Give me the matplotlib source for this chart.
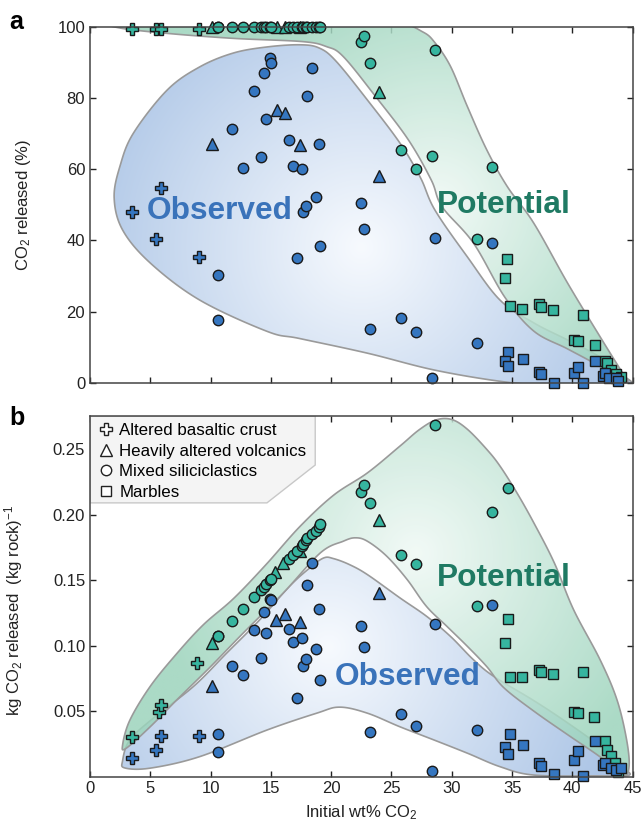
import matplotlib
matplotlib.use('Agg')
import matplotlib.pyplot as plt
import numpy as np
from matplotlib.patches import Polygon
from matplotlib.lines import Line2D

plt.rcParams['font.family'] = ['Liberation Sans', 'DejaVu Sans']
plt.rcParams['mathtext.fontset'] = 'custom'
plt.rcParams['mathtext.rm'] = 'Liberation Sans'
plt.rcParams['mathtext.it'] = 'Liberation Sans:italic'

# ---- panel a: CO2 released (%) ----
a_cross_x = [3.5, 5.5, 5.9, 9.0]
a_cross_obs = [48.0, 40.3, 54.8, 35.4]
a_cross_pot = [99.3, 99.3, 99.3, 99.3]

a_tri_x = [10.1, 15.5, 16.2, 17.4, 24.0]
a_tri_obs = [67.0, 76.6, 75.7, 66.7, 58.1]
a_tri_pot = [100, 100, 100, 100, 81.7]

a_circ_x = [10.6, 10.6, 11.8, 12.7, 13.6, 14.2, 14.4, 14.6, 14.9, 15.0, 16.5, 16.8, 17.2, 17.6, 17.7,
            17.9, 18.0, 18.4, 18.7, 19.0, 19.1, 22.5, 22.7, 23.2, 25.8, 27.0, 28.4, 28.6, 32.1, 33.3]
a_circ_obs = [30.3, 17.6, 71.2, 60.3, 81.9, 63.4, 86.9, 74.1, 91.1, 89.9, 68.2, 61.0, 35.0, 59.9, 47.9,
              49.7, 80.5, 88.5, 52.1, 67.1, 38.4, 50.6, 43.3, 15.0, 18.3, 14.2, 1.4, 40.6, 11.1, 39.2]
a_circ_pot = [100, 100, 100, 100, 100, 100, 100, 100, 100, 100, 100, 100, 100, 100, 100,
              100, 100, 100, 100, 100, 100, 95.8, 97.5, 89.7, 65.3, 59.9, 63.7, 93.5, 40.4, 60.6]

a_sq_pot_x = [34.6, 34.4, 34.8, 35.8, 37.2, 37.4, 38.4, 40.9, 40.1, 40.5, 41.9, 42.7, 42.9, 43.2, 43.6, 44.0]
a_sq_pot = [34.7, 29.4, 21.5, 20.7, 22.0, 21.3, 20.3, 19.0, 12.0, 11.6, 10.7, 6.0, 5.5, 3.6, 2.5, 1.5]
a_sq_obs_x = [34.7, 34.4, 34.7, 35.9, 37.2, 37.4, 38.5, 40.1, 40.5, 40.9, 41.9, 42.5, 42.7, 43.0, 43.6, 43.8]
a_sq_obs = [8.5, 6.1, 4.8, 6.6, 3.1, 2.4, 0.0, 2.8, 4.5, 0.0, 6.2, 2.0, 2.6, 1.2, 1.2, 0.4]

# ---- panel b: kg CO2 released per kg rock ----
b_cross_x = [3.5, 5.5, 5.9, 9.0]
b_cross_obs = [0.014, 0.020, 0.031, 0.031]
b_cross_pot_x = [3.5, 5.7, 5.9, 8.9]
b_cross_pot = [0.0305, 0.049, 0.0547, 0.087]

b_tri_x = [10.1, 15.4, 16.2, 17.4, 24.0]
b_tri_obs = [0.0688, 0.1198, 0.1244, 0.1178, 0.1403]
b_tri_pot_x = [10.1, 15.3, 16.0, 17.4, 24.0]
b_tri_pot = [0.102, 0.156, 0.163, 0.172, 0.1964]

b_circ_x = a_circ_x
b_circ_obs = [0.0323, 0.019, 0.0846, 0.0772, 0.1116, 0.0905, 0.1257, 0.1096, 0.136, 0.135, 0.1127, 0.1027,
              0.0603, 0.1058, 0.0846, 0.0897, 0.146, 0.163, 0.0975, 0.128, 0.0739, 0.1147, 0.0986, 0.0343,
              0.0476, 0.0387, 0.0042, 0.1168, 0.0356, 0.1308]
b_circ_pot_x = [10.6, 10.6, 11.8, 12.7, 13.6, 14.2, 14.4, 14.6, 14.9, 15.0, 16.5, 16.8, 17.2, 17.6, 17.7,
                17.9, 18.0, 18.4, 18.7, 19.0, 19.1, 22.5, 22.7, 23.2, 25.8, 27.0, 34.7, 28.6, 32.1, 33.3]
b_circ_pot = [0.107, 0.107, 0.1185, 0.128, 0.137, 0.1428, 0.145, 0.147, 0.1505, 0.151, 0.166, 0.169,
              0.172, 0.1765, 0.178, 0.1806, 0.182, 0.185, 0.1875, 0.191, 0.1926, 0.2173, 0.2224, 0.2092,
              0.169, 0.1622, 0.2204, 0.2686, 0.130, 0.202]

b_sq_pot_x = [34.7, 34.4, 34.8, 35.8, 37.2, 37.4, 38.4, 40.9, 40.1, 40.5, 41.8, 42.7, 42.9, 43.2, 43.5, 43.8]
b_sq_pot = [0.1206, 0.102, 0.0757, 0.0757, 0.0815, 0.0798, 0.0787, 0.0798, 0.0496, 0.0484, 0.0453,
            0.0274, 0.020, 0.0157, 0.010, 0.0037]
b_sq_obs_x = [34.8, 34.4, 34.7, 35.9, 37.2, 37.4, 38.5, 40.1, 40.5, 40.9, 41.9, 42.5, 42.7, 43.2, 43.6, 44.0]
b_sq_obs = [0.0325, 0.0228, 0.0172, 0.0244, 0.0106, 0.0083, 0.0017, 0.0124, 0.0195, 0.0004, 0.0274,
            0.0085, 0.0106, 0.0063, 0.005, 0.0063]

# envelope outlines (rough vertices, smoothed below)
obs_a_x = [2.0, 2.5, 3.6, 6.4, 9.1, 11.9, 14.7, 17.4, 19.0, 20.4, 23.0, 25.7, 27.4, 28.6, 31.3, 34.0, 36.8,
           39.6, 42.3, 44.0, 44.9, 42.0, 38.0, 34.0, 28.5, 23.0, 17.4, 14.7, 9.1, 5.0, 2.7]
obs_a_y = [52.0, 61.0, 70.1, 82.2, 88.7, 92.6, 94.3, 94.9, 94.0, 90.3, 79.4, 67.3, 57.6, 48.5, 35.3, 23.2,
           16.8, 12.0, 7.2, 2.5, -0.5, -1.0, -0.8, 0.4, 3.6, 8.3, 12.4, 14.4, 23.2, 33.6, 42.9]
pot_a_x = [2.3, 10.0, 20.0, 25.5, 27.6, 28.6, 29.9, 31.3, 32.9, 34.6, 36.8, 39.6, 42.3, 44.0, 44.6, 43.6,
           42.3, 39.6, 36.8, 34.4, 31.8, 29.2, 28.3, 26.4, 23.7, 21.0, 19.6, 17.6, 11.9, 6.4, 2.5]
pot_a_y = [100.8, 101.5, 101.5, 101.0, 98.5, 95.5, 88.8, 77.5, 65.4, 55.1, 44.8, 28.0, 12.9, 3.6, 0.3, 1.0,
           4.5, 9.5, 14.5, 24.0, 39.2, 49.4, 56.9, 68.2, 80.3, 91.6, 94.4, 95.8, 96.7, 98.1, 99.6]
obs_b_x = [2.7, 3.3, 5.3, 8.6, 11.3, 14.1, 16.5, 18.3, 19.4, 20.2, 21.5, 23.0, 25.7, 27.9, 29.9, 31.8, 33.5,
           36.8, 39.6, 42.3, 44.0, 44.7, 42.0, 36.8, 34.0, 31.3, 28.5, 25.7, 23.0, 20.7, 18.8, 14.7, 9.1, 5.0, 2.9]
obs_b_y = [0.012, 0.028, 0.045, 0.069, 0.094, 0.120, 0.145, 0.160, 0.1671, 0.1665, 0.162, 0.1543, 0.1365,
           0.1225, 0.107, 0.0892, 0.0764, 0.058, 0.041, 0.023, 0.008, 0.001, 0.0005, 0.0011, 0.0075, 0.0178,
           0.028, 0.038, 0.0484, 0.053, 0.0484, 0.0356, 0.0152, 0.0064, 0.0065]
pot_b_x = [2.7, 3.3, 5.0, 7.2, 9.4, 11.9, 14.6, 17.4, 20.2, 23.0, 25.7, 27.3, 28.7, 30.0, 31.3, 32.9, 34.0,
           35.4, 36.8, 38.5, 40.1, 42.3, 43.7, 44.5, 44.7, 44.2, 42.3, 39.6, 36.8, 34.3, 32.9, 31.3, 29.6,
           27.9, 26.3, 24.6, 23.0, 22.0, 21.0, 19.1, 16.0, 12.7, 10.0, 7.2, 5.0, 3.0]
pot_b_y = [0.024, 0.043, 0.069, 0.094, 0.116, 0.136, 0.162, 0.191, 0.215, 0.232, 0.2525, 0.265, 0.2725,
           0.2728, 0.2653, 0.250, 0.2372, 0.2168, 0.1939, 0.1633, 0.1275, 0.0892, 0.0586, 0.028, 0.0075,
           0.001, 0.015, 0.032, 0.050, 0.068, 0.084, 0.0994, 0.1147, 0.130, 0.1505, 0.1684, 0.1798, 0.1824,
           0.1798, 0.1709, 0.140, 0.1096, 0.084, 0.0586, 0.0381, 0.0216]

BLUE = '#3576c0'
GREEN = '#36b59f'
EDGE = '#1a1a1a'


def smooth_closed(xs, ys, n=14):
    # catmull-rom through the outline vertices
    p = np.column_stack([xs, ys]).astype(float)
    m = len(p)
    t = np.linspace(0, 1, n, endpoint=False)[:, None]
    out = []
    for i in range(m):
        p0, p1, p2, p3 = p[i - 1], p[i], p[(i + 1) % m], p[(i + 2) % m]
        out.append(0.5 * (2 * p1 + (-p0 + p2) * t + (2 * p0 - 5 * p1 + 4 * p2 - p3) * t ** 2
                          + (-p0 + 3 * p1 - 3 * p2 + p3) * t ** 3))
    return np.vstack(out)


def gradient_region(ax, xs, ys, center, inner, outer, radius, z, alpha=1.0):
    x0, x1 = ax.get_xlim()
    y0, y1 = ax.get_ylim()
    gx, gy = np.meshgrid(np.linspace(0, 1, 400), np.linspace(0, 1, 300))
    d = np.hypot((gx - center[0]) * 543, (gy - center[1]) * 358)
    tt = np.clip(d / radius, 0, 1)[..., None]
    rgb = np.array(inner) / 255 * (1 - tt) + np.array(outer) / 255 * tt
    rgba = np.dstack([rgb, np.full(tt.shape[:2], alpha)])
    im = ax.imshow(rgba, extent=(x0, x1, y0, y1), origin='lower', aspect='auto',
                   zorder=z, interpolation='bilinear')
    verts = smooth_closed(xs, ys)
    clip = Polygon(verts, closed=True, facecolor='none', edgecolor='none')
    ax.add_patch(clip)
    im.set_clip_path(clip)
    ax.add_patch(Polygon(verts, closed=True, fill=False, edgecolor='#9a9a9a', lw=1.2, zorder=z + 0.1))
    ax.set_xlim(x0, x1)
    ax.set_ylim(y0, y1)


def points(ax, x, y, marker, color, ms):
    ax.plot(x, y, ls='none', marker=marker, ms=ms, mfc=color, mec=EDGE, mew=1.0,
            zorder=5, clip_on=False)


def style_axes(ax):
    ax.tick_params(direction='in', top=True, right=True, length=4.5, width=1,
                   labelsize=12, colors='#222222')
    for s in ax.spines.values():
        s.set_color('#444444')
        s.set_linewidth(1.1)
        s.set_zorder(6)


fig = plt.figure(figsize=(6.44, 8.32), dpi=100)
ax_a = fig.add_axes([0.1398, 0.540, 0.8426, 0.428])
ax_b = fig.add_axes([0.1398, 0.0667, 0.8426, 0.4333])

BLUE_IN, BLUE_OUT = (247, 250, 254), (172, 197, 230)
GREEN_IN, GREEN_OUT = (240, 249, 245), (156, 212, 188)

# ----- panel a -----
ax_a.set_xlim(0, 45)
ax_a.set_ylim(0, 100)
gradient_region(ax_a, obs_a_x, obs_a_y, (0.50, 0.38), BLUE_IN, BLUE_OUT, 300, 1)
gradient_region(ax_a, pot_a_x, pot_a_y, (0.64, 0.50), GREEN_IN, GREEN_OUT, 230, 2, alpha=0.85)

points(ax_a, a_cross_x, a_cross_pot, 'P', GREEN, 9)
points(ax_a, a_tri_x, a_tri_pot, '^', GREEN, 8)
points(ax_a, a_circ_x, a_circ_pot, 'o', GREEN, 7.5)
points(ax_a, a_sq_pot_x, a_sq_pot, 's', GREEN, 6.5)
points(ax_a, a_cross_x, a_cross_obs, 'P', BLUE, 9)
points(ax_a, a_tri_x, a_tri_obs, '^', BLUE, 8)
points(ax_a, a_circ_x, a_circ_obs, 'o', BLUE, 7.5)
points(ax_a, a_sq_obs_x, a_sq_obs, 's', BLUE, 6.5)

ax_a.text(4.7, 48.3, 'Observed', color='#3a73ba', fontsize=22.8, fontweight='bold',
          va='center', ha='left', zorder=4)
ax_a.text(28.8, 49.9, 'Potential', color='#1f7a63', fontsize=22.8, fontweight='bold',
          va='center', ha='left', zorder=4)

ax_a.set_xticks(np.arange(0, 46, 5))
ax_a.set_yticks([0, 20, 40, 60, 80, 100])
style_axes(ax_a)
ax_a.tick_params(labelbottom=False)
ax_a.set_ylabel('CO$_2$ released (%)', fontsize=12, color='#222222')
ax_a.yaxis.set_label_coords(-0.105, 0.5)

# ----- panel b -----
ax_b.set_xlim(0, 45)
ax_b.set_ylim(0, 0.2755)
gradient_region(ax_b, obs_b_x, obs_b_y, (0.44, 0.36), BLUE_IN, BLUE_OUT, 300, 1)
gradient_region(ax_b, pot_b_x, pot_b_y, (0.60, 0.62), GREEN_IN, GREEN_OUT, 260, 2, alpha=0.85)

points(ax_b, b_cross_pot_x, b_cross_pot, 'P', GREEN, 9)
points(ax_b, b_tri_pot_x, b_tri_pot, '^', GREEN, 8)
points(ax_b, b_circ_pot_x, b_circ_pot, 'o', GREEN, 7.5)
points(ax_b, b_sq_pot_x, b_sq_pot, 's', GREEN, 6.5)
points(ax_b, b_cross_x, b_cross_obs, 'P', BLUE, 9)
points(ax_b, b_tri_x, b_tri_obs, '^', BLUE, 8)
points(ax_b, b_circ_x, b_circ_obs, 'o', BLUE, 7.5)
points(ax_b, b_sq_obs_x, b_sq_obs, 's', BLUE, 6.5)

ax_b.text(20.3, 0.0764, 'Observed', color='#3a73ba', fontsize=22.8, fontweight='bold',
          va='center', ha='left', zorder=4)
ax_b.text(28.8, 0.1518, 'Potential', color='#1f7a63', fontsize=22.8, fontweight='bold',
          va='center', ha='left', zorder=4)

ax_b.set_xticks(np.arange(0, 46, 5))
ax_b.set_yticks([0.05, 0.10, 0.15, 0.20, 0.25])
ax_b.set_yticklabels(['0.05', '0.10', '0.15', '0.20', '0.25'])
style_axes(ax_b)
ax_b.set_xlabel('Initial wt% CO$_2$', fontsize=12, color='#222222', labelpad=5)
ax_b.set_ylabel('kg CO$_2$ released  (kg rock)$^{-1}$', fontsize=12, color='#222222')
ax_b.yaxis.set_label_coords(-0.12, 0.46)

# legend box with a clipped corner
ax_b.add_patch(Polygon([(0, 1), (0.415, 1), (0.415, 0.864), (0.326, 0.759), (0, 0.759)],
                       closed=True, transform=ax_b.transAxes, facecolor='#f4f4f4',
                       edgecolor='#c8c8c8', lw=1.0, zorder=6))
handles = [Line2D([], [], ls='none', marker=m, ms=s, mfc='white', mec='#222222', mew=1.0)
           for m, s in [('P', 9), ('^', 8), ('o', 7.5), ('s', 6.5)]]
labels = ['Altered basaltic crust', 'Heavily altered volcanics', 'Mixed siliciclastics', 'Marbles']
leg = ax_b.legend(handles, labels, loc='upper left', bbox_to_anchor=(0, 1), frameon=False,
                  fontsize=12.2, handlelength=1.0, handletextpad=0.3, labelspacing=0.33,
                  borderpad=0.42, borderaxespad=0.0)
leg.set_zorder(7)

fig.text(0.014, 0.973, 'a', fontsize=18, fontweight='bold', va='center', ha='left')
fig.text(0.014, 0.497, 'b', fontsize=18, fontweight='bold', va='center', ha='left')

fig.savefig('out.png', dpi=100)
